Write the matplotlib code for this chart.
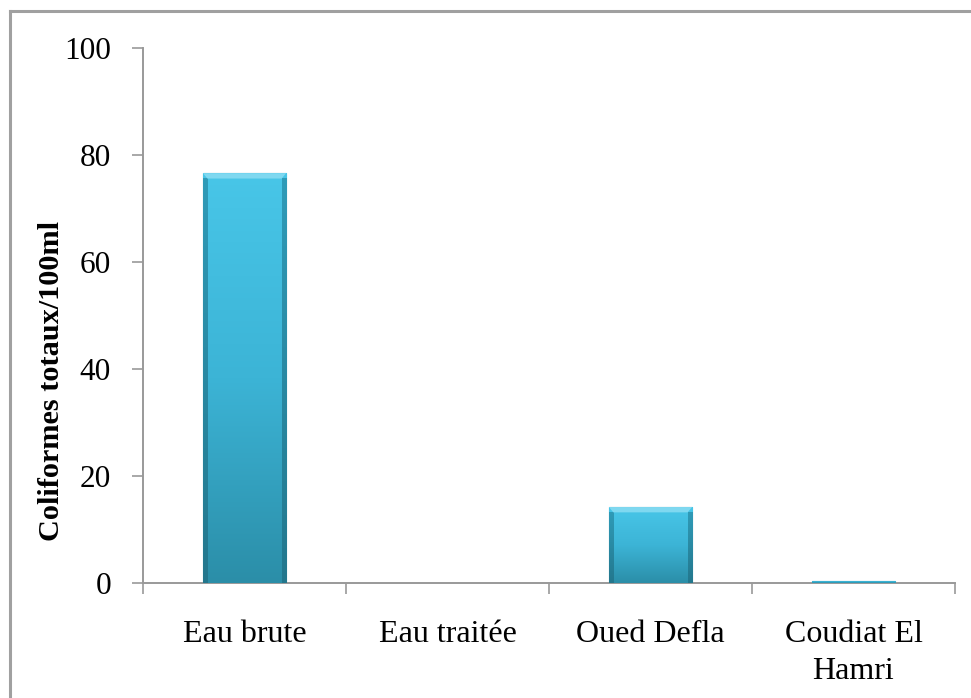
#bar chart of total coliforms per site

import matplotlib.pyplot as plt
import numpy as np
from matplotlib.lines import Line2D
from matplotlib.colors import LinearSegmentedColormap

plt.rcParams['font.family'] = ['Liberation Serif', 'DejaVu Serif']

#data
sites = ["Eau brute", "Eau traitée", "Oued Defla", "Coudiat El\nHamri"]
coliformes = [76.6, 0, 14.2, 0.4]
yticks = [0, 20, 40, 60, 80, 100]

fig = plt.figure(figsize=(9.71, 6.98), dpi=100)
ax = fig.add_axes([0.1473, 0.1648, 0.8362, 0.7664])

#frame around the chart (only left and top visible)
fig.add_artist(Line2D([0.0108, 0.0108], [0, 0.984], color="#a0a0a0", lw=2.2))
fig.add_artist(Line2D([0.0108, 1.0], [0.984, 0.984], color="#a0a0a0", lw=2.2))

x = np.arange(len(sites))
bars = ax.bar(x, coliformes, width=0.41, color="#38b0d3", edgecolor="#2a8aa3",
              linewidth=0.8, zorder=2)

#vertical gradient inside each bar
grad = np.linspace(0, 1, 256).reshape(-1, 1)
cmap = LinearSegmentedColormap.from_list("bar", ["#2b8ea8", "#3cb4d6", "#48c6e8"])
side = LinearSegmentedColormap.from_list("side", ["#23778d", "#2f9bb8"])
for b in bars:
    h = b.get_height()
    if h <= 0:
        continue
    x0 = b.get_x()
    w = b.get_width()
    im = ax.imshow(grad, cmap=cmap, aspect="auto", origin="lower",
                   extent=[x0, x0 + w, 0, h], zorder=3)
    im.set_clip_path(b)
    if h > 2:
        #darker bevel on the sides, light bevel on top
        sw = 0.022
        for xs in [x0, x0 + w - sw]:
            ax.imshow(grad, cmap=side, aspect="auto", origin="lower",
                      extent=[xs, xs + sw, 0, h - 1.0], zorder=4)
        ax.fill([x0, x0 + w, x0 + w - sw, x0 + sw], [h, h, h - 1.0, h - 1.0],
                color="#7fd8f0", zorder=4, lw=0)

ax.set_xlim(-0.5, len(sites) - 0.5)
ax.set_ylim(0, 100)
ax.set_yticks(yticks)
ax.set_xticks(x)
ax.set_xticklabels(sites, fontsize=23, linespacing=1.35, va="top")
ax.set_xticks(np.arange(-0.5, len(sites)), minor=True)
ax.tick_params(axis="x", which="major", length=0, pad=27)
ax.tick_params(axis="x", which="minor", length=8, width=1.2, color="#999999")
ax.tick_params(axis="y", length=8, width=1.2, color="#999999", labelsize=22.5, pad=15)

for s in ["top", "right"]:
    ax.spines[s].set_visible(False)
for s in ["left", "bottom"]:
    ax.spines[s].set_color("#999999")
    ax.spines[s].set_linewidth(1.4)

ax.set_ylabel("Coliformes totaux/100ml", fontsize=21.8, fontweight="bold")
ax.yaxis.set_label_coords(-0.096, 0.378)

fig.savefig("out.png", dpi=100)
